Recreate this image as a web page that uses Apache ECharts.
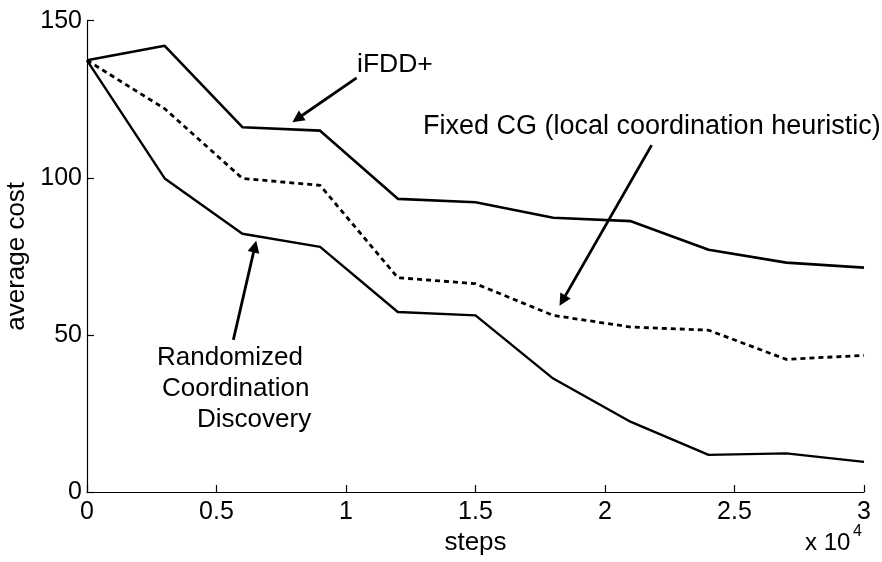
<!DOCTYPE html>
<html>
<head>
<meta charset="utf-8">
<script src="https://cdn.jsdelivr.net/npm/echarts@6/dist/echarts.min.js"></script>
<style>
  html, body { margin: 0; padding: 0; background: #fff; }
  #chart { width: 882px; height: 562px; }
</style>
</head>
<body>
<div id="chart"></div>
<script>
// Training steps (in units of 10^4)
const steps = [0, 0.3, 0.6, 0.9, 1.2, 1.5, 1.8, 2.1, 2.4, 2.7, 3.0];

// Average cost per method
const ifddPlus = [137.4, 142.0, 116.1, 115.0, 93.3, 92.2, 87.3, 86.2, 77.1, 73.0, 71.4];
const fixedCG = [137.4, 122.0, 99.8, 97.6, 68.2, 66.3, 56.2, 52.5, 51.5, 42.2, 43.5];
const randomizedCD = [137.4, 99.8, 82.2, 78.0, 57.3, 56.2, 36.1, 22.3, 11.8, 12.3, 9.6];

// Axis ticks
const xTicks = [0, 0.5, 1, 1.5, 2, 2.5, 3];
const yTicks = [0, 50, 100, 150];

// Annotation arrows: [tail, head] in data coordinates
const arrows = [
  [[1.041, 131.8], [0.812, 118.8]],
  [[2.180, 110.4], [1.836, 60.9]],
  [[0.565, 48.4], [0.648, 78.1]]
];

const FONT = "'Liberation Sans', Arial, Helvetica, sans-serif";

function pairs(xs, ys) { return xs.map((x, i) => [x, ys[i]]); }

const chart = echarts.init(document.getElementById('chart'), null, { renderer: 'canvas' });

const axisCommon = {
  axisLine: { show: true, onZero: false, lineStyle: { color: '#000', width: 1.2 } },
  axisTick: { show: true, inside: true, length: 7, lineStyle: { color: '#000', width: 1.2 } },
  splitLine: { show: false },
  axisLabel: { color: '#000', fontSize: 25, fontFamily: FONT }
};

const lineBase = { type: 'line', showSymbol: false, symbol: 'none', silent: true, animation: false };

chart.setOption({
  animation: false,
  backgroundColor: '#fff',
  grid: { left: 87, right: 18, top: 20.7, bottom: 70, containLabel: false, outerBoundsMode: 'none' },
  xAxis: Object.assign({}, axisCommon, {
    type: 'value',
    min: xTicks[0], max: xTicks[xTicks.length - 1], interval: 0.5,
    name: 'steps', nameLocation: 'middle', nameGap: 35,
    nameTextStyle: { color: '#000', fontSize: 26, fontFamily: FONT },
    axisLabel: Object.assign({}, axisCommon.axisLabel, { margin: 8 })
  }),
  yAxis: Object.assign({}, axisCommon, {
    type: 'value',
    min: yTicks[0], max: yTicks[yTicks.length - 1], interval: 50,
    name: 'average cost', nameLocation: 'middle', nameGap: 49, nameRotate: 90,
    nameTextStyle: { color: '#000', fontSize: 26, fontFamily: FONT },
    axisLabel: Object.assign({}, axisCommon.axisLabel, { margin: 5 })
  }),
  series: [
    Object.assign({}, lineBase, {
      name: 'iFDD+',
      data: pairs(steps, ifddPlus),
      lineStyle: { color: '#000', width: 2.6 },
      markLine: {
        silent: true,
        animation: false,
        symbol: ['none', 'triangle'],
        symbolSize: 12,
        label: { show: false },
        emphasis: { disabled: true },
        lineStyle: { color: '#000', width: 2.8, type: 'solid' },
        itemStyle: { color: '#000' },
        data: arrows.map(a => [{ coord: a[0] }, { coord: a[1] }])
      }
    }),
    Object.assign({}, lineBase, {
      name: 'Fixed CG',
      data: pairs(steps, fixedCG),
      lineStyle: { color: '#000', width: 2.8, type: [5, 4] }
    }),
    Object.assign({}, lineBase, {
      name: 'Randomized Coordination Discovery',
      data: pairs(steps, randomizedCD),
      lineStyle: { color: '#000', width: 2.4 }
    })
  ],
  graphic: [
    { type: 'text', x: 357, y: 65, silent: true,
      style: { text: 'iFDD+', fontSize: 26.5, fontFamily: FONT, fill: '#000', align: 'left', verticalAlign: 'middle' } },
    { type: 'text', x: 423, y: 126.5, silent: true,
      style: { text: 'Fixed CG (local coordination heuristic)', fontSize: 27, fontFamily: FONT, fill: '#000', align: 'left', verticalAlign: 'middle' } },
    { type: 'text', x: 157, y: 357.5, silent: true,
      style: { text: 'Randomized', fontSize: 26, fontFamily: FONT, fill: '#000', align: 'left', verticalAlign: 'middle' } },
    { type: 'text', x: 162, y: 388.5, silent: true,
      style: { text: 'Coordination', fontSize: 26, fontFamily: FONT, fill: '#000', align: 'left', verticalAlign: 'middle' } },
    { type: 'text', x: 197, y: 420, silent: true,
      style: { text: 'Discovery', fontSize: 26, fontFamily: FONT, fill: '#000', align: 'left', verticalAlign: 'middle' } },
    { type: 'text', x: 805, y: 543, silent: true,
      style: { text: 'x 10', fontSize: 24, fontFamily: FONT, fill: '#000', align: 'left', verticalAlign: 'middle' } },
    { type: 'text', x: 853, y: 532, silent: true,
      style: { text: '4', fontSize: 16, fontFamily: FONT, fill: '#000', align: 'left', verticalAlign: 'middle' } }
  ]
});
</script>
</body>
</html>
